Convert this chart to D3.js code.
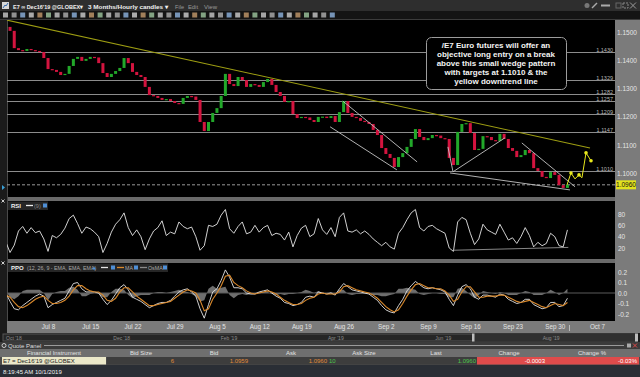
<!DOCTYPE html>
<html>
<head>
<meta charset="utf-8">
<script src="https://cdn.jsdelivr.net/npm/d3@7/dist/d3.min.js"></script>
<style>
body { margin: 0; background: #1b1b1b; overflow: hidden; }
svg { display: block; font-family: "Liberation Sans", Arial, sans-serif; }
</style>
</head>
<body>
<div id="E7Chart"></div>
<script>
// half-day closes, Jul 1 -> Oct 1 (trading days only)
var closes = [1.1518, 1.1504, 1.1443, 1.1436, 1.1433, 1.1440, 1.1436, 1.1433, 1.1429, 1.1408,
    1.1369, 1.1366, 1.1359, 1.1348, 1.1352, 1.1380, 1.1405, 1.1412, 1.1398, 1.1405,
    1.1412, 1.1410, 1.1390, 1.1355, 1.1341, 1.1352, 1.1362, 1.1373, 1.1408, 1.1390,
    1.1359, 1.1348, 1.1341, 1.1306, 1.1277, 1.1274, 1.1267, 1.1260, 1.1263, 1.1256,
    1.1249, 1.1246, 1.1267, 1.1274, 1.1272, 1.1260, 1.1182, 1.1150, 1.1182, 1.1214,
    1.1231, 1.1274, 1.1352, 1.1316, 1.1309, 1.1341, 1.1330, 1.1306, 1.1316, 1.1313,
    1.1306, 1.1323, 1.1334, 1.1313, 1.1288, 1.1274, 1.1253, 1.1256, 1.1210, 1.1196,
    1.1200, 1.1198, 1.1189, 1.1182, 1.1200, 1.1201, 1.1196, 1.1203, 1.1182, 1.1217,
    1.1256, 1.1214, 1.1200, 1.1196, 1.1186, 1.1182, 1.1175, 1.1154, 1.1136, 1.1090,
    1.1069, 1.1055, 1.1023, 1.1058, 1.1072, 1.1094, 1.1122, 1.1157, 1.1129, 1.1118,
    1.1125, 1.1136, 1.1134, 1.1125, 1.1122, 1.1055, 1.1030, 1.1147, 1.1175, 1.1178,
    1.1143, 1.1083, 1.1087, 1.1132, 1.1129, 1.1118, 1.1115, 1.1140, 1.1122, 1.1090,
    1.1080, 1.1058, 1.1065, 1.1083, 1.1072, 1.1019, 1.1009, 1.0988, 1.0984, 1.1005,
    1.0995, 1.0959, 1.0949, 1.0960];
var rsi = [31, 12, 25, 50, 58, 46, 56, 47, 50, 36, 14, 42, 38, 44, 55, 72, 78, 63, 46, 57,
    54, 48, 40, 12, 28, 48, 62, 70, 82, 56, 42, 52, 40, 17, 36, 50, 56, 68, 42, 48,
    45, 66, 58, 54, 57, 40, 16, 24, 60, 58, 62, 78, 88, 54, 46, 58, 66, 45, 48, 60,
    48, 56, 60, 42, 46, 44, 34, 48, 22, 42, 55, 60, 40, 45, 72, 52, 44, 56, 40, 74,
    82, 50, 48, 52, 45, 50, 44, 36, 30, 24, 30, 22, 18, 46, 56, 70, 82, 88, 56, 50,
    58, 60, 54, 50, 46, 20, 14, 66, 74, 70, 46, 26, 36, 62, 52, 48, 44, 62, 48, 34,
    38, 28, 40, 56, 42, 22, 30, 24, 28, 46, 40, 24, 22, 52];
var ppo = [0.00, -0.08, -0.15, -0.16, -0.12, -0.09, -0.06, -0.03, -0.01, -0.03,
    -0.14, -0.11, -0.09, -0.07, -0.05, 0.02, 0.09, 0.10, 0.04, 0.01,
    0.01, 0.01, 0.00, -0.06, -0.11, -0.07, -0.01, 0.05, 0.08, 0.03,
    -0.04, -0.06, -0.08, -0.11, -0.14, -0.12, -0.10, -0.09, -0.09, -0.07,
    -0.03, 0.01, 0.03, 0.04, 0.01, -0.03, -0.15, -0.24, -0.11, 0.01,
    0.04, 0.12, 0.22, 0.15, 0.05, 0.05, 0.04, 0.00, -0.01, -0.01,
    0.01, 0.02, 0.03, 0.00, -0.03, -0.05, -0.09, -0.10, -0.12, -0.11,
    -0.09, -0.04, -0.03, -0.04, 0.01, 0.00, -0.01, 0.00, -0.02, 0.04,
    0.09, 0.06, 0.03, 0.02, 0.01, 0.00, -0.01, -0.04, -0.07, -0.12,
    -0.16, -0.18, -0.19, -0.12, -0.06, 0.02, 0.07, 0.11, 0.08, 0.05,
    0.04, 0.05, 0.04, 0.03, 0.01, -0.06, -0.12, -0.02, 0.06, 0.08,
    0.04, -0.04, -0.06, -0.02, -0.02, -0.03, -0.04, -0.01, -0.02, -0.06,
    -0.08, -0.10, -0.09, -0.06, -0.06, -0.11, -0.13, -0.15, -0.14, -0.09,
    -0.09, -0.13, -0.12, -0.05];
var ppoMa = [-0.02, -0.04, -0.09, -0.13, -0.14, -0.12, -0.09, -0.06, -0.04, -0.03,
    -0.07, -0.10, -0.10, -0.09, -0.07, -0.03, 0.03, 0.07, 0.07, 0.04,
    0.02, 0.01, 0.01, -0.02, -0.07, -0.08, -0.05, 0.01, 0.05, 0.05,
    0.01, -0.03, -0.06, -0.09, -0.12, -0.12, -0.11, -0.10, -0.09, -0.08,
    -0.05, -0.02, 0.01, 0.03, 0.02, 0.00, -0.07, -0.17, -0.15, -0.06,
    0.00, 0.07, 0.16, 0.17, 0.10, 0.07, 0.05, 0.02, 0.00, -0.01,
    0.00, 0.01, 0.02, 0.01, -0.01, -0.04, -0.07, -0.09, -0.11, -0.11,
    -0.10, -0.07, -0.05, -0.04, -0.01, 0.00, -0.01, -0.01, -0.01, 0.01,
    0.06, 0.07, 0.05, 0.03, 0.02, 0.01, 0.00, -0.02, -0.05, -0.09,
    -0.13, -0.16, -0.18, -0.16, -0.10, -0.03, 0.03, 0.08, 0.09, 0.07,
    0.05, 0.05, 0.04, 0.04, 0.02, -0.02, -0.08, -0.06, 0.01, 0.06,
    0.06, 0.01, -0.04, -0.04, -0.03, -0.03, -0.03, -0.02, -0.02, -0.04,
    -0.06, -0.08, -0.09, -0.08, -0.07, -0.09, -0.11, -0.13, -0.14, -0.12,
    -0.10, -0.11, -0.12, -0.09];
var osma = [0.02, -0.04, -0.06, -0.03, 0.02, 0.03, 0.03, 0.03, 0.03, 0.00,
    -0.07, -0.01, 0.01, 0.02, 0.02, 0.05, 0.06, 0.03, -0.03, -0.03,
    -0.01, 0.00, -0.01, -0.04, -0.04, 0.01, 0.04, 0.04, 0.03, -0.02,
    -0.05, -0.03, -0.02, -0.02, -0.02, 0.00, 0.01, 0.01, 0.00, 0.01,
    0.02, 0.03, 0.02, 0.01, -0.01, -0.03, -0.08, -0.07, 0.04, 0.07,
    0.04, 0.05, 0.06, -0.02, -0.05, -0.02, -0.01, -0.02, -0.01, 0.00,
    0.01, 0.01, 0.01, -0.01, -0.02, -0.01, -0.02, -0.01, -0.01, 0.00,
    0.01, 0.03, 0.02, 0.00, 0.02, 0.00, 0.00, 0.01, -0.01, 0.03,
    0.03, -0.01, -0.02, -0.01, -0.01, -0.01, -0.01, -0.02, -0.02, -0.03,
    -0.03, -0.02, -0.01, 0.04, 0.04, 0.05, 0.04, 0.03, -0.01, -0.02,
    -0.01, 0.00, 0.00, -0.01, -0.01, -0.04, -0.04, 0.04, 0.05, 0.02,
    -0.02, -0.05, -0.02, 0.02, 0.01, 0.00, -0.01, 0.01, 0.00, -0.02,
    -0.02, -0.02, 0.00, 0.02, 0.01, -0.02, -0.02, -0.02, 0.00, 0.03,
    0.01, -0.02, 0.00, 0.04];

var dateLabels = ["Jul 8", "Jul 15", "Jul 22", "Jul 29", "Aug 5", "Aug 12", "Aug 19",
    "Aug 26", "Sep 2", "Sep 9", "Sep 16", "Sep 23", "Sep 30", "Oct 7"];
var dateDays = [5, 10, 15, 20, 25, 30, 35, 40, 45, 50, 55, 60, 65, 70];
var priceTicks = [1.15, 1.14, 1.13, 1.12, 1.11, 1.10];
var levels = [1.1430, 1.1329, 1.1282, 1.1257, 1.1209, 1.1147, 1.1010];
var lastPrice = 1.0960;
var rsiTicks = [80, 60, 40, 20];
var ppoTicks = [0.2, 0.1, 0.0, -0.1, -0.2];
var scrollLabels = ["Oct '18", "Dec '18", "Feb '19", "Apr '19", "Jun '19", "Aug '19"];
var scrollMonths = [0, 2, 4, 6, 8, 10];

// drawn annotations as [trading day, price]
var downtrend = [[0.14, 1.1542], [69.17, 1.1090]];
var wedgeLines = [
    [[39.9, 1.1256], [48.7, 1.1041]],
    [[38.4, 1.1165], [46.3, 1.1013]],
    [[52.35, 1.1094], [52.95, 1.1006]],
    [[52.95, 1.1006], [59.1, 1.1126]],
    [[52.6, 1.1002], [66.8, 1.0942]],
    [[61.1, 1.1108], [67.4, 1.0953]]
];
var projection = [[66.45, 1.0960], [66.92, 1.1002], [67.39, 1.0981], [67.87, 1.0995],
    [68.22, 1.0985], [68.70, 1.1073], [69.29, 1.1045]];
var rsiSupport = [[53.0, 16], [66.6, 21]];

var noteLines = ["/E7 Euro futures will offer an", "objective long entry on a break",
    "above this small wedge pattern", "with targets at 1.1010 & the", "yellow downtrend line"];

var quoteHeaders = ["Financial Instrument", "Bid Size", "Bid", "Ask", "Ask Size", "Last", "Change", "Change %"];
var quoteHeaderX = [54, 141, 214, 291, 364, 436, 509, 592];

var x = d3.scaleLinear().domain([0, 70]).range([5.8, 597]);
var yPrice = d3.scaleLinear().domain([1.09, 1.15]).range([201.8, 32]);
var yRsi = d3.scaleLinear().domain([0, 100]).range([259.3, 202.7]);
var yPpo = d3.scaleLinear().domain([-0.3, 0.3]).range([324.5, 261.5]);
var xScroll = d3.scaleLinear().domain([0, 12]).range([6, 650]);
var halfDay = function(i) { return x(i / 2); };

var svg = d3.select("#E7Chart").append("svg")
    .attr("width", 640).attr("height", 377);
var defs = svg.append("defs");
[["clipMain", 20, 177], ["clipRsi", 201, 58], ["clipPpo", 263, 58]].forEach(function(c) {
    defs.append("clipPath").attr("id", c[0]).append("rect")
        .attr("x", 7).attr("y", c[1]).attr("width", 608).attr("height", c[2]);
});

createFrame = function() {
    svg.append("rect").attr("width", 640).attr("height", 377).attr("fill", "#1b1b1b");
    // title bar
    svg.append("rect").attr("width", 640).attr("height", 11).attr("fill", "#2e2e2e");
    svg.append("rect").attr("x", 2).attr("y", 2).attr("width", 7).attr("height", 7)
        .attr("fill", "#d8d8d8");
    svg.append("path").attr("d", "M3,8 L5,5 L6,6 L8,3").attr("stroke", "#3a6fb0")
        .attr("fill", "none");
    // text, x, width, bold
    var title = [["E7 \u221e Dec16'19 @GLOBEX\u25be", 13, 70, true], ["3 Months/Hourly candles \u25be", 88, 80, true],
        ["File", 175, 9, false], ["Edit", 188, 10, false], ["View", 204, 13, false]];
    title.forEach(function(t) {
        svg.append("text").attr("x", t[1]).attr("y", 8.5).text(t[0])
            .attr("font-size", 6).attr("font-weight", t[3] ? "bold" : "normal")
            .attr("textLength", t[2]).attr("lengthAdjust", "spacingAndGlyphs")
            .attr("fill", t[3] ? "#f0f0f0" : "#9a9a9a");
    });
    svg.append("circle").attr("cx", 587).attr("cy", 5.5).attr("r", 2.5).attr("fill", "#777");
    svg.append("path").attr("d", "M592,8 L597,3").attr("stroke", "#aaa").attr("stroke-width", 1.5);
    svg.append("path").attr("d", "M601,5.5 H610").attr("stroke", "#aaa").attr("stroke-width", 2);
    svg.append("rect").attr("x", 616).attr("y", 3).attr("width", 5).attr("height", 5)
        .attr("fill", "none").attr("stroke", "#666");
    svg.append("rect").attr("x", 623).attr("y", 3).attr("width", 5).attr("height", 5)
        .attr("fill", "none").attr("stroke", "#888").attr("stroke-dasharray", "2,1");
    svg.append("path").attr("d", "M630,2.5 L636,8.5 M636,2.5 L630,8.5").attr("stroke", "#999");
    // toolbar
    svg.append("rect").attr("y", 11).attr("width", 640).attr("height", 8).attr("fill", "#141414");
    var iconColors = ["#c9c9c9", "#b0b0b0", "#8fb4e0", "#d0d0d0", "#c49a6c", "#9fc79f"];
    d3.range(3, 336, 8.6).forEach(function(ix, i) {
        svg.append("rect").attr("x", ix).attr("y", 12.5).attr("width", 5).attr("height", 5)
            .attr("fill", iconColors[i % iconColors.length]).attr("opacity", 0.8);
    });
    svg.append("line").attr("x1", 0).attr("x2", 640).attr("y1", 19.5).attr("y2", 19.5)
        .attr("stroke", "#3c3c3c");
    // panels
    svg.append("rect").attr("x", 7).attr("y", 20).attr("width", 608).attr("height", 301)
        .attr("fill", "#000");
    svg.append("rect").attr("x", 7).attr("y", 197).attr("width", 608).attr("height", 4)
        .attr("fill", "#6a6a6a");
    svg.append("rect").attr("x", 7).attr("y", 259).attr("width", 608).attr("height", 4)
        .attr("fill", "#6a6a6a");
    svg.append("rect").attr("x", 615).attr("y", 20).attr("width", 25).attr("height", 313)
        .attr("fill", "#7b7b7b");
    svg.append("line").attr("x1", 7.5).attr("x2", 7.5).attr("y1", 20).attr("y2", 321)
        .attr("stroke", "#4a4a4a");
    // left strip markers
    [[3, 201], [3, 263]].forEach(function(p) {
        svg.append("path").attr("d", "M" + (p[0] - 1.5) + "," + (p[1] - 1.5) + " l3,3 m0,-3 l-3,3")
            .attr("stroke", "#ccc");
    });
    svg.append("path").attr("d", "M2,185 L5,187.5 L2,190 Z").attr("fill", "#3aa0d8");
}

createMain = function() {
    var g = svg.append("g").attr("clip-path", "url(#clipMain)");
    g.selectAll(".level").data(levels).enter().append("line")
        .attr("x1", 7).attr("x2", 615)
        .attr("y1", function(d) { return Math.round(yPrice(d)) + 0.5; })
        .attr("y2", function(d) { return Math.round(yPrice(d)) + 0.5; })
        .attr("stroke", "#8c8c8c");
    g.selectAll(".levelLabel").data(levels).enter().append("text")
        .attr("x", 613).attr("y", function(d) { return Math.round(yPrice(d)) - 0.5; })
        .attr("text-anchor", "end").attr("font-size", 5.5).attr("fill", "#b8b8b8")
        .text(function(d) { return d.toFixed(4); });
    g.append("line").attr("x1", 7).attr("x2", 615)
        .attr("y1", yPrice(lastPrice)).attr("y2", yPrice(lastPrice))
        .attr("stroke", "#9a9a9a").attr("stroke-dasharray", "3,2");

    var line = d3.line().x(function(d) { return x(d[0]); }).y(function(d) { return yPrice(d[1]); });
    g.append("path").attr("d", line(downtrend)).attr("stroke", "#9e9e12")
        .attr("stroke-width", 1.1).attr("fill", "none");

    // candles
    g.selectAll(".candle").data(closes).enter().append("rect")
        .attr("x", function(d, i) { return halfDay(i) - 1.5; })
        .attr("width", 3)
        .attr("y", function(d, i) {
            var o = i == 0 ? d : closes[i - 1];
            return yPrice(Math.max(o, d));
        })
        .attr("height", function(d, i) {
            var o = i == 0 ? d : closes[i - 1];
            return Math.max(1.2, Math.abs(yPrice(o) - yPrice(d)));
        })
        .attr("fill", function(d, i) {
            var o = i == 0 ? d : closes[i - 1];
            return d >= o ? "#22a82a" : "#d3143f";
        });

    wedgeLines.forEach(function(w) {
        g.append("path").attr("d", line(w)).attr("stroke", "#c4c4c4")
            .attr("stroke-width", 0.9).attr("fill", "none");
    });
    g.append("path").attr("d", line(projection)).attr("stroke", "#e8e81c")
        .attr("stroke-width", 1).attr("fill", "none");
    g.selectAll(".projDot").data(projection.slice(1).filter(function(d, i) { return i % 2 == 0 || i == 5; }))
        .enter().append("circle")
        .attr("cx", function(d) { return x(d[0]); }).attr("cy", function(d) { return yPrice(d[1]); })
        .attr("r", 1.8).attr("fill", "#e8e81c");

    // note box
    svg.append("rect").attr("x", 426.5).attr("y", 37.5).attr("width", 140).attr("height", 52)
        .attr("rx", 5).attr("fill", "#000").attr("stroke", "#9c9c9c");
    svg.selectAll(".note").data(noteLines).enter().append("text")
        .attr("x", 496).attr("y", function(d, i) { return 48 + i * 9.1; })
        .attr("text-anchor", "middle").attr("font-size", 8).attr("font-weight", "bold")
        .attr("fill", "#f4f4f4").text(function(d) { return d; });

    var axis = svg.append("g").attr("transform", "translate(615,0)")
        .call(d3.axisRight(yPrice).tickValues(priceTicks).tickSize(0).tickPadding(2)
            .tickFormat(function(d) { return d.toFixed(4); }));
    styleAxis(axis, 6.5);
    svg.append("rect").attr("x", 616).attr("y", yPrice(lastPrice) - 4.5).attr("width", 20)
        .attr("height", 9).attr("fill", "#e2e21e");
    svg.append("text").attr("x", 626).attr("y", yPrice(lastPrice) + 2.3)
        .attr("text-anchor", "middle").attr("font-size", 6.5).attr("fill", "#111")
        .text(lastPrice.toFixed(4));
}

styleAxis = function(axis, size) {
    axis.select(".domain").remove();
    axis.selectAll("text").attr("fill", "#e4e4e4").attr("font-size", size)
        .attr("font-family", "Liberation Sans, Arial, sans-serif");
}

panelHeader = function(y, w) {
    svg.append("rect").attr("x", 8).attr("y", y).attr("width", w).attr("height", 8.5)
        .attr("fill", "#262626");
}

legendSwatch = function(xs, y, color) {
    svg.append("line").attr("x1", xs).attr("x2", xs + 7).attr("y1", y).attr("y2", y)
        .attr("stroke", color).attr("stroke-width", 1.3);
}

blueBox = function(xs, y) {
    svg.append("rect").attr("x", xs).attr("y", y - 2).attr("width", 4).attr("height", 4)
        .attr("fill", "#4f8fd6");
}

createRsi = function() {
    var g = svg.append("g").attr("clip-path", "url(#clipRsi)");
    var line = d3.line().x(function(d, i) { return halfDay(i); }).y(function(d) { return yRsi(d); });
    g.append("path").attr("d", line(rsi)).attr("stroke", "#e6e6e6").attr("stroke-width", 0.9)
        .attr("fill", "none");
    g.append("path").attr("d", d3.line().x(function(d) { return x(d[0]); })
        .y(function(d) { return yRsi(d[1]); })(rsiSupport))
        .attr("stroke", "#a8a8a8").attr("stroke-width", 0.8).attr("fill", "none");
    panelHeader(201.5, 40);
    svg.append("text").attr("x", 11).attr("y", 208).attr("font-size", 6).attr("font-weight", "bold")
        .attr("fill", "#eee").text("RSI");
    legendSwatch(26, 205.5, "#eee");
    svg.append("text").attr("x", 34).attr("y", 208).attr("font-size", 5.5).attr("fill", "#888").text("(9)");
    blueBox(43, 205.5);
    var axis = svg.append("g").attr("transform", "translate(615,0)")
        .call(d3.axisRight(yRsi).tickValues(rsiTicks).tickSize(0).tickPadding(3));
    styleAxis(axis, 6.5);
}

createPpo = function() {
    var g = svg.append("g").attr("clip-path", "url(#clipPpo)");
    g.append("path").attr("d", d3.area().x(function(d, i) { return halfDay(i); })
        .y0(yPpo(0)).y1(function(d) { return yPpo(d); })(osma))
        .attr("fill", "#6e6e6e");
    g.append("line").attr("x1", 7).attr("x2", 615).attr("y1", yPpo(0)).attr("y2", yPpo(0))
        .attr("stroke", "#5a5a5a").attr("stroke-width", 1.2);
    var line = d3.line().x(function(d, i) { return halfDay(i); }).y(function(d) { return yPpo(d); });
    g.append("path").attr("d", line(ppo)).attr("stroke", "#e4e4e4").attr("stroke-width", 0.9)
        .attr("fill", "none");
    g.append("path").attr("d", line(ppoMa)).attr("stroke", "#d9892c").attr("stroke-width", 1.1)
        .attr("fill", "none");
    panelHeader(263.5, 160);
    svg.append("text").attr("x", 11).attr("y", 270).attr("font-size", 6).attr("font-weight", "bold")
        .attr("fill", "#eee").text("PPO");
    svg.append("text").attr("x", 27).attr("y", 270).attr("font-size", 5.3).attr("fill", "#a8a8a8")
        .text("(12, 26, 9 - EMA, EMA, EMA)");
    svg.append("path").attr("d", "M92,269.5 l2,-3 l2,3 Z").attr("fill", "#4f8fd6");
    legendSwatch(101, 267.5, "#e4e4e4");
    blueBox(111, 267.5);
    legendSwatch(117, 267.5, "#d9892c");
    svg.append("text").attr("x", 125).attr("y", 270).attr("font-size", 5.3).attr("fill", "#a8a8a8").text("MA");
    blueBox(134, 267.5);
    legendSwatch(140, 267.5, "#8a8a8a");
    svg.append("text").attr("x", 148).attr("y", 270).attr("font-size", 5.3).attr("fill", "#a8a8a8").text("OsMA");
    blueBox(163, 267.5);
    var axis = svg.append("g").attr("transform", "translate(615,0)")
        .call(d3.axisRight(yPpo).tickValues(ppoTicks).tickSize(0).tickPadding(3)
            .tickFormat(function(d) { return d.toFixed(1); }));
    styleAxis(axis, 6.5);
}

createDateAxis = function() {
    svg.append("rect").attr("x", 7).attr("y", 321).attr("width", 633).attr("height", 12)
        .attr("fill", "#7b7b7b");
    var axis = svg.append("g").attr("transform", "translate(0,322)")
        .call(d3.axisBottom(x).tickValues(dateDays).tickSize(0).tickPadding(3)
            .tickFormat(function(d, i) { return dateLabels[i]; }));
    styleAxis(axis, 6.3);
    svg.append("line").attr("x1", 569.5).attr("x2", 569.5).attr("y1", 325).attr("y2", 331)
        .attr("stroke", "#bbb");
    // scroller
    svg.append("rect").attr("x", 3).attr("y", 334).attr("width", 634).attr("height", 7)
        .attr("fill", "#262626").attr("stroke", "#555");
    svg.append("rect").attr("x", 473).attr("y", 334).attr("width", 162).attr("height", 7)
        .attr("fill", "#303030");
    svg.append("rect").attr("x", 472).attr("y", 333.5).attr("width", 2.5).attr("height", 8)
        .attr("fill", "#bdbdbd");
    svg.append("rect").attr("x", 635).attr("y", 333.5).attr("width", 3).attr("height", 8)
        .attr("fill", "#bdbdbd");
    svg.selectAll(".scrollLabel").data(scrollLabels).enter().append("text")
        .attr("x", function(d, i) { return xScroll(scrollMonths[i]); }).attr("y", 340)
        .attr("font-size", 5).attr("fill", "#8c8c8c").text(function(d) { return d; });
}

createQuotePanel = function() {
    svg.append("rect").attr("y", 342).attr("width", 640).attr("height", 7).attr("fill", "#3b3b3b");
    svg.append("circle").attr("cx", 4).attr("cy", 345.5).attr("r", 2).attr("fill", "none")
        .attr("stroke", "#ccc");
    svg.append("text").attr("x", 8).attr("y", 348).attr("font-size", 6).attr("fill", "#ddd")
        .text("Quote Panel");
    svg.append("line").attr("x1", 44).attr("x2", 624).attr("y1", 345.5).attr("y2", 345.5)
        .attr("stroke", "#9a9a9a");
    svg.append("rect").attr("x", 627).attr("y", 343.5).attr("width", 4).attr("height", 4)
        .attr("fill", "#aaa");
    svg.append("path").attr("d", "M633,343.5 l4,4 m0,-4 l-4,4").attr("stroke", "#e04848");
    svg.append("rect").attr("y", 349).attr("width", 640).attr("height", 8).attr("fill", "#6f6f6f");
    svg.selectAll(".qh").data(quoteHeaders).enter().append("text")
        .attr("x", function(d, i) { return quoteHeaderX[i]; }).attr("y", 355)
        .attr("text-anchor", "middle").attr("font-size", 6).attr("fill", "#e2e2e2")
        .text(function(d) { return d; });
    svg.append("rect").attr("y", 357).attr("width", 640).attr("height", 8).attr("fill", "#4a4a4a");
    svg.append("rect").attr("x", 2).attr("y", 357).attr("width", 104).attr("height", 7.5)
        .attr("fill", "#ebe8c9");
    svg.append("rect").attr("x", 107).attr("y", 357).attr("width", 370).attr("height", 7.5)
        .attr("fill", "#3d3d3d");
    svg.append("rect").attr("x", 477).attr("y", 357).attr("width", 162).attr("height", 7.5)
        .attr("fill", "#df4b4b");
    var cells = [["E7 = Dec16'19 @GLOBEX", 3, "start", "#222"], ["6", 174, "end", "#e08a38"],
        ["1.0959", 248, "end", "#e08a38"], ["1.0960", 327, "end", "#e08a38"],
        ["10", 329, "start", "#4cc44c"], ["1.0960", 476, "end", "#4cc44c"],
        ["-0.0003", 545, "end", "#fff"], ["-0.03%", 637, "end", "#fff"]];
    cells.forEach(function(c) {
        svg.append("text").attr("x", c[1]).attr("y", 363).attr("text-anchor", c[2])
            .attr("font-size", 6).attr("fill", c[3]).text(c[0]);
    });
    svg.append("rect").attr("y", 365).attr("width", 640).attr("height", 12).attr("fill", "#2a2e35");
    svg.append("text").attr("x", 3).attr("y", 373.5).attr("font-size", 6).attr("fill", "#f0f0f0")
        .text("8:19:45 AM 10/1/2019");
}

createFrame();
createMain();
createRsi();
createPpo();
createDateAxis();
createQuotePanel();
</script>
</body>
</html>
